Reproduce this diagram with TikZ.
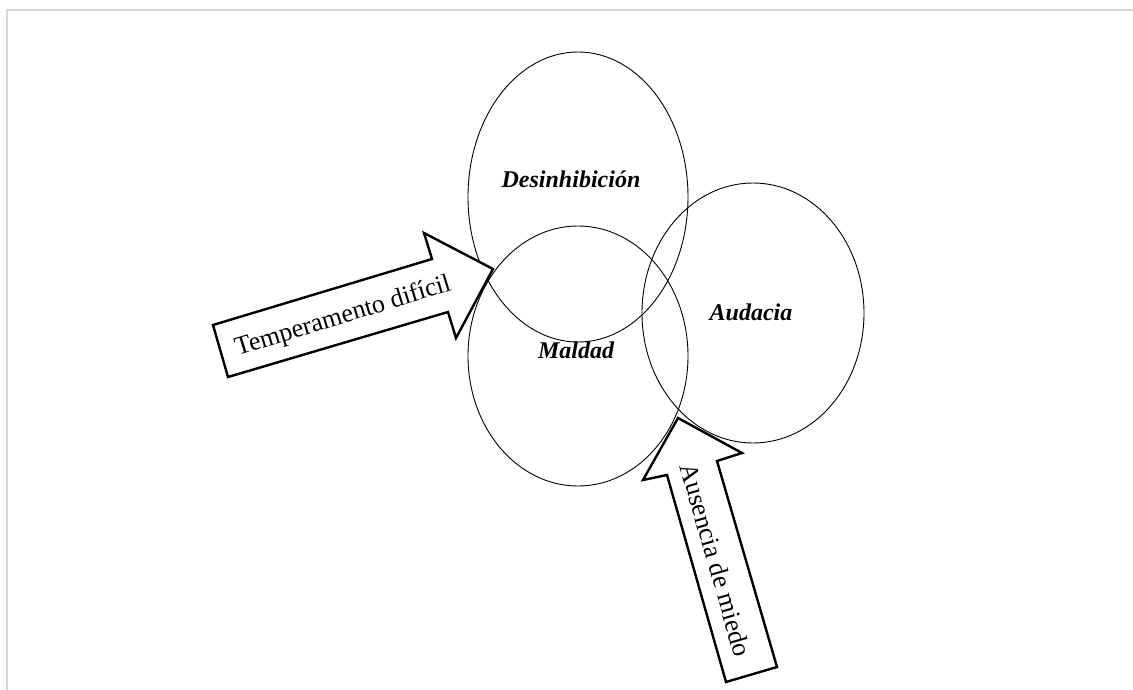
\documentclass[tikz,border=0pt]{standalone}
\usepackage{fontspec}
\setmainfont{Liberation Serif}
\definecolor{frame}{HTML}{D6D6D6}
\begin{document}
\begin{tikzpicture}[x=1pt,y=-1pt,
  ring/.style={draw=black,line width=0.9pt},
  blockarrow/.style={draw=black,line width=2.4pt,line join=miter,fill=white},
  ringlabel/.style={font=\fontsize{24}{28}\selectfont\bfseries\itshape,anchor=base},
  arrowlabel/.style={font=\fontsize{26}{30}\selectfont,inner sep=0pt}]
\useasboundingbox (0,0) rectangle (1133,690);
\draw[frame,line width=2pt] (7,690) -- (7,10) -- (1133,10);
% ellipses
\draw[ring] (578,197) ellipse [x radius=110,y radius=145];
\draw[ring] (578,356) ellipse [x radius=110,y radius=130];
\draw[ring] (753,313) ellipse [x radius=111,y radius=130];
\node[ringlabel] (des) at (571,188) {Desinhibición};
\node[ringlabel] (mal) at (576,358) {Maldad};
\node[ringlabel] (aud) at (751,320) {Audacia};
% arrow 1
\coordinate (t1a) at (213,325);
\coordinate (t1b) at (432,259);
\coordinate (t1c) at (424,233);
\coordinate (t1tip) at (493,269);
\coordinate (t1d) at (456,338);
\coordinate (t1e) at (448,312);
\coordinate (t1f) at (228,377);
\draw[blockarrow] (t1a) -- (t1b) -- (t1c) -- (t1tip) -- (t1d) -- (t1e) -- (t1f) -- cycle;
\node[arrowlabel,anchor=base,rotate=17] (temp) at (345,323) {Temperamento difícil};
% arrow 2
\coordinate (t2tip) at (678,418);
\coordinate (t2a) at (742,453);
\coordinate (t2b) at (717,461);
\coordinate (t2c) at (777,667);
\coordinate (t2d) at (726,682);
\coordinate (t2e) at (667,475);
\coordinate (t2f) at (643,480);
\draw[blockarrow] (t2tip) -- (t2a) -- (t2b) -- (t2c) -- (t2d) -- (t2e) -- (t2f) -- cycle;
\node[arrowlabel,rotate=-74] (aus) at (716,560) {Ausencia de miedo};
\end{tikzpicture}
\end{document}
